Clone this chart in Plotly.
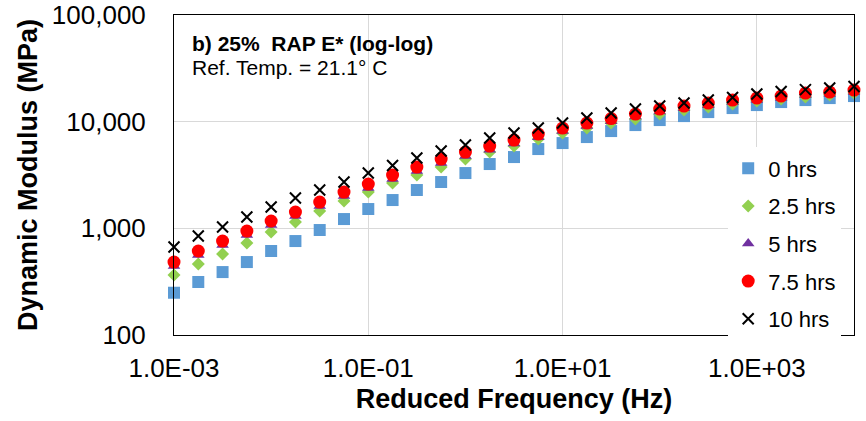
import plotly.graph_objects as go

# Reduced frequency (Hz)
freq = [0.001, 0.0017783, 0.0031623, 0.0056234, 0.01, 0.017783, 0.031623, 0.056234,
        0.1, 0.17783, 0.31623, 0.56234, 1.0, 1.7783, 3.1623, 5.6234, 10.0, 17.783,
        31.623, 56.234, 100.0, 177.83, 316.23, 562.34, 1000.0, 1778.3, 3162.3, 5623.4, 10000.0]

# Dynamic modulus |E*| (MPa)
e_0hrs = [249, 314, 389, 483, 613, 760, 964, 1222, 1517, 1842, 2286, 2717, 3298, 4006, 4658,
          5537, 6302, 7173, 8164, 9292, 10350, 11280, 12300, 13410, 14310, 15270, 15940, 16640, 17380]
e_2_5hrs = [365, 463, 574, 728, 923, 1146, 1453, 1803, 2189, 2658, 3159, 3754, 4462, 5189, 5907,
            6870, 7820, 8710, 9703, 10580, 11780, 12850, 13700, 14620, 15600, 16290, 17010, 17760, 18540]
e_5hrs = [443, 562, 697, 865, 1074, 1303, 1618, 2008, 2386, 2898, 3444, 4093, 4760, 5450, 6240,
          7130, 8160, 9130, 10100, 11150, 12450, 13350, 14250, 15250, 15950, 16700, 17800, 18200, 19000]
e_7_5hrs = [483, 613, 760, 943, 1171, 1421, 1764, 2189, 2601, 3159, 3754, 4462, 5189, 5907, 6724,
            7653, 8710, 9703, 10690, 11780, 13130, 14010, 14940, 15940, 16640, 17380, 18540, 18940, 19780]
e_10hrs = [668, 847, 1028, 1276, 1583, 1923, 2286, 2717, 3298, 3878, 4560, 5303, 6037, 7022, 7820,
           8710, 9703, 10810, 12040, 13130, 14010, 14940, 15940, 16820, 18140, 19150, 19980, 20650, 21330]

series_names = ["0 hrs", "2.5 hrs", "5 hrs", "7.5 hrs", "10 hrs"]

x_tickvals = [0.001, 0.1, 10, 1000]
x_ticktext = ["1.0E-03", "1.0E-01", "1.0E+01", "1.0E+03"]
y_tickvals = [100, 1000, 10000, 100000]
y_ticktext = ["100", "1,000", "10,000", "100,000"]

FONT = "Liberation Sans, Arial, sans-serif"

styles = [
    dict(symbol="square", size=12, color="#5B9BD5"),
    dict(symbol="diamond", size=10, color="#92D050"),
    dict(symbol="triangle-up", size=11, color="#7030A0"),
    dict(symbol="circle", size=13, color="#FF0000"),
    dict(symbol="x-thin", size=11, color="#000000", line=dict(width=2, color="#000000")),
]
data = [e_0hrs, e_2_5hrs, e_5hrs, e_7_5hrs, e_10hrs]

fig = go.Figure()
for name, vals, st in zip(series_names, data, styles):
    marker = dict(st)
    if "line" not in marker:
        marker["line"] = dict(width=0)
    fig.add_trace(go.Scatter(
        x=freq, y=vals, mode="markers", name=name, marker=marker,
        cliponaxis=False, legendgroup=name,
    ))

fig.update_layout(
    width=866, height=421,
    margin=dict(l=174, r=12, t=15, b=86),
    paper_bgcolor="white", plot_bgcolor="white",
    font=dict(family=FONT, color="#000000"),
    showlegend=True,
    legend=dict(
        x=0.815, y=0.586, xanchor="left", yanchor="top",
        bgcolor="white", borderwidth=0,
        font=dict(size=22, family=FONT, color="#000000"),
        traceorder="grouped", tracegroupgap=6,
    ),
    xaxis=dict(
        type="log", range=[-3, 4], automargin=False,
        tickvals=x_tickvals, ticktext=x_ticktext,
        tickfont=dict(size=26, family=FONT),
        ticks="outside", ticklen=10, tickcolor="rgba(0,0,0,0)",
        showgrid=True, gridcolor="#D9D9D9", gridwidth=1,
        showline=True, linecolor="#000000", linewidth=1, mirror=True,
        zeroline=False,
        title=dict(text="<b>Reduced Frequency (Hz)</b>",
                   font=dict(size=27, family=FONT), standoff=6),
    ),
    yaxis=dict(
        type="log", range=[2, 5], automargin=False,
        tickvals=y_tickvals, ticktext=y_ticktext,
        tickfont=dict(size=26, family=FONT),
        ticks="outside", ticklen=22, tickcolor="rgba(0,0,0,0)",
        showgrid=True, gridcolor="#D9D9D9", gridwidth=1,
        showline=True, linecolor="#000000", linewidth=1, mirror=True,
        zeroline=False,
        title=dict(text="<b>Dynamic Modulus (MPa)</b>",
                   font=dict(size=27, family=FONT), standoff=6),
    ),
    annotations=[
        dict(text="<b>b) 25%\u00a0 RAP E* (log-log)</b>", xref="paper", yref="paper",
             x=0.0235, y=0.9125, xanchor="left", yanchor="middle", showarrow=False,
             font=dict(size=21, family=FONT)),
        dict(text="Ref. Temp. = 21.1° C", xref="paper", yref="paper",
             x=0.0235, y=0.8375, xanchor="left", yanchor="middle", showarrow=False,
             font=dict(size=21, family=FONT)),
    ],
)

fig.write_html("out.html")
